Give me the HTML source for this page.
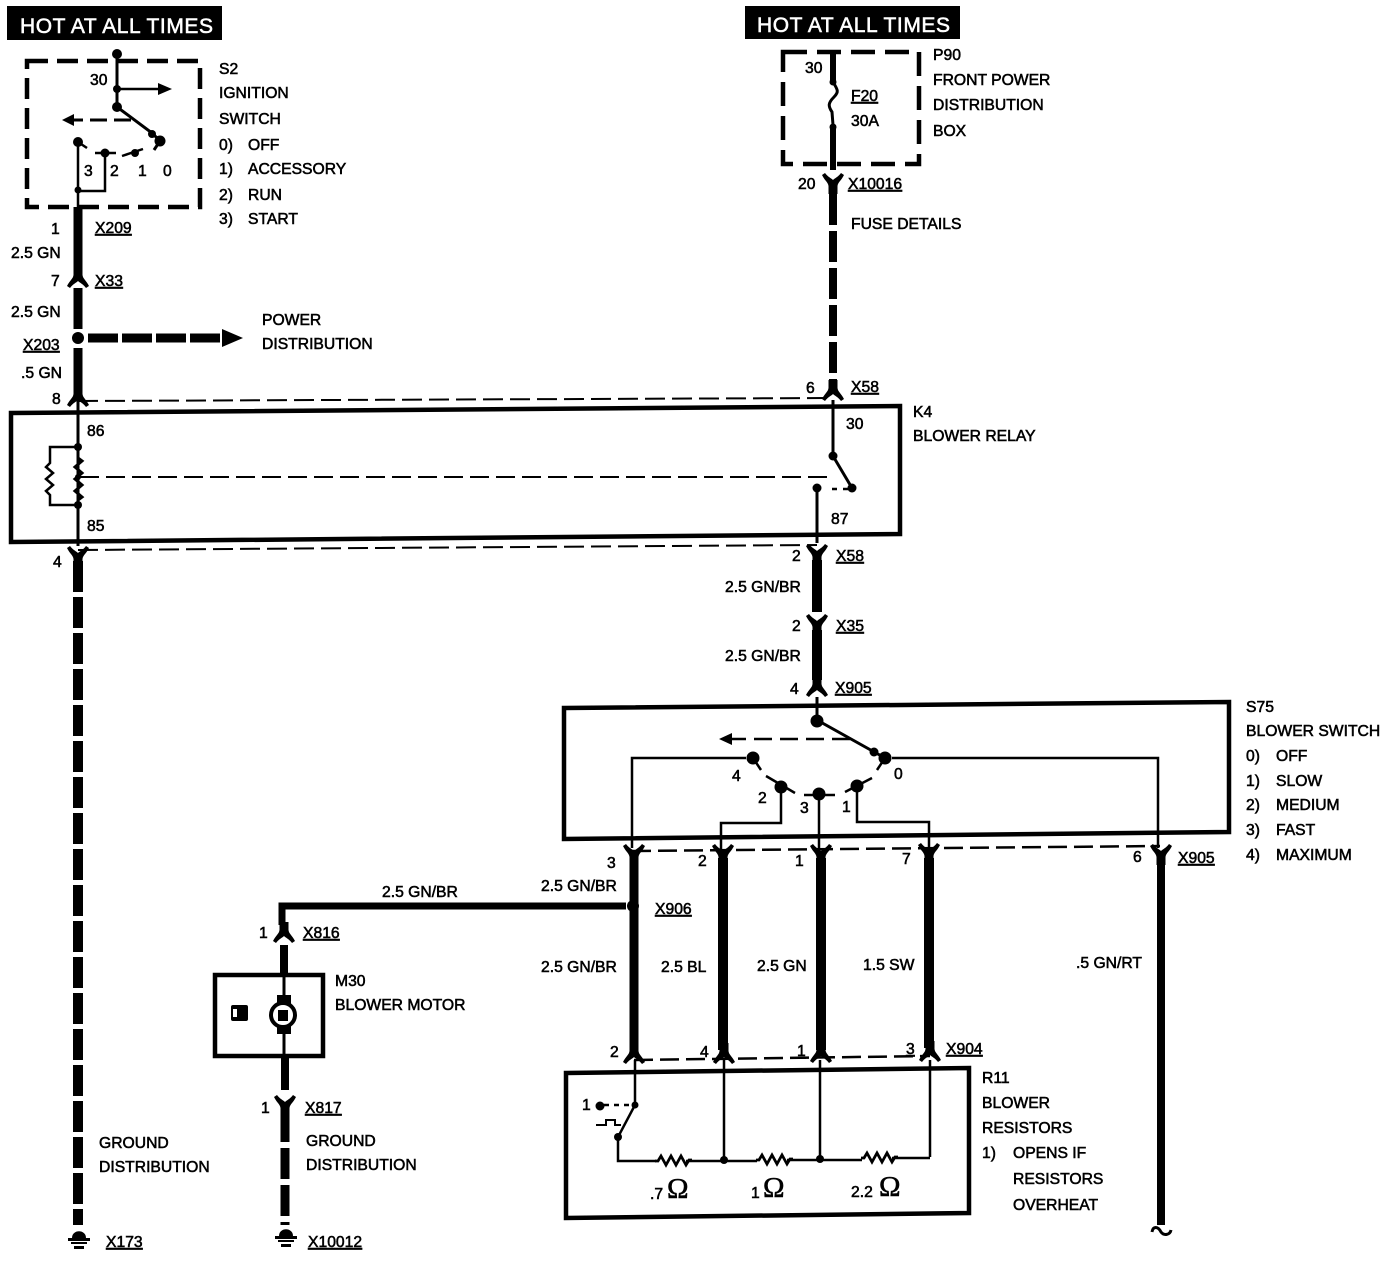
<!DOCTYPE html>
<html><head><meta charset="utf-8"><style>
html,body{margin:0;padding:0;background:#fff}
svg{display:block}
text{font-family:"Liberation Sans",sans-serif;font-size:15.7px;fill:#000;stroke:#000;stroke-width:.55}
.u{text-decoration:underline}
.h{font-size:21px;fill:#fff;stroke:#fff;stroke-width:.55}
.o{font-family:"Liberation Serif",serif;font-size:29px}
</style></head><body>
<svg width="1386" height="1280" viewBox="0 0 1386 1280" xmlns="http://www.w3.org/2000/svg">
<defs>
<path id="y" d="M-11,-6 L-8,-8 C-5,-4 -2,-3 0,-1 C2,-3 5,-4 8,-8 L11,-6 C8,0 5,1 4.5,5 L4.5,13 L-4.5,13 L-4.5,5 C-5,1 -8,0 -11,-6Z" fill="#000"/>
<path id="n" d="M-11,6 L-8,8 C-5,4 -2,3 0,1 C2,3 5,4 8,8 L11,6 C8,0 5,-1 4.5,-5 L4.5,-13 L-4.5,-13 L-4.5,-5 C-5,-1 -8,0 -11,6Z" fill="#000"/>
<g id="g"><path d="M-7,-2 C-7,-11 7,-11 7,-2Z" fill="#000"/><rect x="-11" y="-2" width="22" height="3"/><rect x="-8" y="2" width="16" height="2"/><rect x="-5" y="6" width="10" height="3"/></g>
<path id="r" d="M0,0 l3,0 l3,-5 l5,9 l5,-9 l5,9 l5,-9 l5,9 l3,-5 l3,0" fill="none" stroke="#000" stroke-width="2.8"/>
</defs>

<!-- headers -->
<rect x="7" y="6" width="215" height="34" fill="#000"/>
<text class="h" x="20" y="33" textLength="193">HOT AT ALL TIMES</text>
<rect x="745" y="6" width="215" height="33" fill="#000"/>
<text class="h" x="757" y="32" textLength="193">HOT AT ALL TIMES</text>

<g fill="none" stroke="#000">
<!-- component boxes -->
<polygon points="11,413 900,406 900,534 11,542" stroke-width="4.5"/>
<polygon points="564,708 1229,702 1229,832 564,839" stroke-width="4.5"/>
<polygon points="566,1073 969,1068 969,1213 566,1218" stroke-width="4.5"/>
<rect x="215" y="975" width="108" height="81" stroke-width="4.5"/>
<!-- dashed boxes -->
<rect x="27" y="61" width="173" height="146" stroke-width="4.5" stroke-dasharray="21,9"/>
<rect x="783" y="52" width="136" height="112" stroke-width="4.5" stroke-dasharray="24,10"/>

<!-- thin dashed bridges -->
<path d="M78,401 L833,398" stroke-width="2" stroke-dasharray="20,7"/>
<path d="M78,550 L817,545" stroke-width="2" stroke-dasharray="20,7"/>
<path d="M632,851 L1160,846" stroke-width="2.5" stroke-dasharray="19,7"/>
<path d="M634,1060 L930,1056" stroke-width="2.5" stroke-dasharray="19,7"/>

<!-- S2 switch -->
<path d="M117,53 V107 L152,133 L160,141 L154,150" stroke-width="3"/>
<path d="M117,89 H160" stroke-width="2.5"/>
<path d="M131,120 H72" stroke-width="3" stroke-dasharray="17,7"/>
<path d="M78,142 V208" stroke-width="2.5"/>
<path d="M78,191 H105 V153" stroke-width="2.5"/>
<path d="M78,142 L87,148 M95,153 H116 M122,156 L143,149" stroke-width="2.5"/>

<!-- left wire -->
<path d="M78,207 V272" stroke-width="9"/>
<path d="M78,288 V329" stroke-width="9"/>
<path d="M78,348 V393" stroke-width="9"/>
<path d="M78,400 V546" stroke-width="3"/>
<path d="M78,561 V1225" stroke-width="10" stroke-dasharray="31,5"/>
<path d="M88,338 H222" stroke-width="9" stroke-dasharray="30,4"/>

<!-- K4 coil -->
<path d="M78,447 H50 V463 l-4,4 l7,6 l-7,6 l7,6 l-7,6 l4,4 V505 H78" stroke-width="2.5"/>
<path d="M78,447 V458 l4,3 l-7,6 l7,6 l-7,6 l7,6 l-7,6 l7,6 l-4,3 V505" stroke-width="3"/>
<path d="M80,477 H832" stroke-width="2" stroke-dasharray="19,7"/>

<!-- right upper wire -->
<path d="M833,52 V82" stroke-width="6"/>
<path d="M833,82 C838,90 839,92 834,97 C828,103 828,106 832,112 L833,125" stroke-width="3"/>
<path d="M833,125 V170" stroke-width="6"/>
<path d="M833,194 V390" stroke-width="8" stroke-dasharray="31,6"/>
<path d="M833,400 V456 L852,488" stroke-width="3"/>
<path d="M852,489 H832" stroke-width="2.5" stroke-dasharray="9,6"/>
<path d="M817,488 V543" stroke-width="3"/>
<path d="M817,560 V612" stroke-width="10"/>
<path d="M817,630 V680" stroke-width="10"/>
<path d="M817,697 V720 L885,758" stroke-width="3"/>

<!-- S75 -->
<path d="M850,739 H730" stroke-width="2.5" stroke-dasharray="18,8"/>
<path d="M746,758 H632 V848" stroke-width="2.5"/>
<path d="M892,758 H1158 V848" stroke-width="2.5"/>
<path d="M781,787 V823 H721 V850" stroke-width="2.5"/>
<path d="M819,794 V850" stroke-width="2.5"/>
<path d="M857,787 V822 H929 V850" stroke-width="2.5"/>
<path d="M753,758 L761,770 M766,776 L795,793 M804,795 H835 M845,792 L872,778 M877,770 L885,758" stroke-width="2.5"/>

<!-- vertical bundle -->
<path d="M634,858 V1050" stroke-width="9"/>
<path d="M723,858 V1050" stroke-width="10"/>
<path d="M821,858 V1050" stroke-width="10"/>
<path d="M929,858 V1048" stroke-width="10"/>
<path d="M1161,858 V1225" stroke-width="8"/>
<path d="M1152,1232 C1153,1226 1158,1226 1161,1232 C1164,1236 1170,1235 1171,1230" stroke-width="3"/>

<!-- motor feed -->
<path d="M626,906 H282 V925" stroke-width="7"/>
<path d="M284,945 V975" stroke-width="8"/>
<path d="M284,975 V1056" stroke-width="3"/>
<path d="M285,1056 V1090" stroke-width="8"/>
<path d="M285,1111 V1225" stroke-width="9" stroke-dasharray="31,6"/>

<!-- R11 -->
<path d="M635,1060 V1105 L618,1137 V1161 H656" stroke-width="2.5"/>
<path d="M724,1060 V1160" stroke-width="2.5"/>
<path d="M820,1060 V1159" stroke-width="2.5"/>
<path d="M930,1060 V1157" stroke-width="2.5"/>
<path d="M686,1161 H757 M787,1160 H862 M892,1158 H930" stroke-width="2.5"/>
<path d="M604,1105 H633" stroke-width="2.5" stroke-dasharray="5,5"/>
<path d="M596,1125 H606 V1120 H615 V1125 H621" stroke-width="2"/>
</g>

<!-- resistors -->
<use href="#r" x="655" y="1161"/>
<use href="#r" x="756" y="1160"/>
<use href="#r" x="861" y="1158"/>

<!-- connectors -->
<use href="#y" x="833" y="181"/>
<use href="#y" x="817" y="552"/>
<use href="#y" x="817" y="622"/>
<use href="#y" x="634" y="852"/>
<use href="#y" x="723" y="852"/>
<use href="#y" x="821" y="852"/>
<use href="#y" x="929" y="851"/>
<use href="#y" x="1161" y="852"/>
<use href="#y" x="285" y="1103"/>
<use href="#y" x="78" y="554"/>
<use href="#n" x="78" y="280"/>
<use href="#n" x="78" y="399"/>
<use href="#n" x="833" y="393"/>
<use href="#n" x="817" y="689"/>
<use href="#n" x="634" y="1056"/>
<use href="#n" x="724" y="1056"/>
<use href="#n" x="821" y="1055"/>
<use href="#n" x="930" y="1054"/>
<use href="#n" x="284" y="935"/>

<!-- arrowheads -->
<polygon points="158,83 172,89 158,95" fill="#000"/>
<polygon points="62,120 74,114 74,126" fill="#000"/>
<polygon points="222,329 243,338 222,347" fill="#000"/>
<polygon points="719,739 732,733 732,745" fill="#000"/>

<!-- dots -->
<g fill="#000">
<circle cx="117" cy="54" r="5"/><circle cx="117" cy="89" r="4"/><circle cx="117" cy="107" r="5"/>
<circle cx="152" cy="134" r="4"/><circle cx="160" cy="141" r="5.5"/>
<circle cx="78" cy="142" r="5"/><circle cx="105" cy="153" r="4.5"/><circle cx="135" cy="153" r="4"/><circle cx="78" cy="190" r="3.5"/>
<circle cx="78" cy="338" r="6"/>
<circle cx="78" cy="447" r="4"/><circle cx="78" cy="505" r="4"/><circle cx="78" cy="477" r="3"/>
<circle cx="833" cy="456" r="4.5"/><circle cx="852" cy="488" r="4.5"/><circle cx="817" cy="488" r="4.5"/>
<circle cx="817" cy="721" r="6.5"/><circle cx="874" cy="752" r="4.5"/><circle cx="885" cy="758" r="6.5"/>
<circle cx="753" cy="758" r="6.5"/><circle cx="781" cy="787" r="6.5"/><circle cx="819" cy="794" r="6.5"/><circle cx="857" cy="786" r="6.5"/>
<circle cx="633" cy="906" r="6"/>
<circle cx="635" cy="1105" r="3.5"/><circle cx="618" cy="1137" r="4"/><circle cx="600" cy="1106" r="4.5"/>
<circle cx="724" cy="1160" r="4"/><circle cx="820" cy="1159" r="4"/>
<circle cx="833" cy="82" r="3.5"/><circle cx="833" cy="127" r="3.5"/>
<!-- motor -->
<rect x="277" y="995" width="14" height="12"/><rect x="277" y="1024" width="14" height="10"/>
<rect x="231" y="1005" width="17" height="16" rx="2"/>
</g>
<rect x="233" y="1009" width="4" height="8" fill="#fff"/>
<circle cx="283" cy="1015" r="12" fill="#fff" stroke="#000" stroke-width="4"/>
<rect x="278" y="1010" width="10" height="11" fill="#000"/>
<use href="#g" x="79" y="1240"/>
<use href="#g" x="286" y="1238"/>

<!-- labels -->
<text x="90" y="85">30</text>
<text x="84" y="176">3</text><text x="110" y="176">2</text><text x="138" y="176">1</text><text x="163" y="176">0</text>
<text x="219" y="74">S2</text><text x="219" y="98">IGNITION</text><text x="219" y="124">SWITCH</text>
<text x="219" y="150">0)</text><text x="248" y="150">OFF</text>
<text x="219" y="174">1)</text><text x="248" y="174">ACCESSORY</text>
<text x="219" y="200">2)</text><text x="248" y="200">RUN</text>
<text x="219" y="224">3)</text><text x="248" y="224">START</text>
<text x="51" y="234">1</text><text class="u" x="95" y="233">X209</text>
<text x="11" y="258">2.5 GN</text>
<text x="51" y="286">7</text><text class="u" x="95" y="286">X33</text>
<text x="11" y="317">2.5 GN</text>
<text class="u" x="23" y="350">X203</text>
<text x="21" y="378">.5 GN</text>
<text x="52" y="404">8</text><text x="87" y="436">86</text><text x="87" y="531">85</text><text x="53" y="567">4</text>
<text x="262" y="325">POWER</text><text x="262" y="349">DISTRIBUTION</text>
<text x="933" y="60">P90</text><text x="933" y="85">FRONT POWER</text><text x="933" y="110">DISTRIBUTION</text><text x="933" y="136">BOX</text>
<text x="805" y="73">30</text><text class="u" x="851" y="101">F20</text><text x="851" y="126">30A</text>
<text x="798" y="189">20</text><text class="u" x="848" y="189">X10016</text>
<text x="851" y="229">FUSE DETAILS</text>
<text x="806" y="393">6</text><text class="u" x="851" y="392">X58</text>
<text x="913" y="417">K4</text><text x="913" y="441">BLOWER RELAY</text>
<text x="846" y="429">30</text><text x="831" y="524">87</text>
<text x="792" y="561">2</text><text class="u" x="836" y="561">X58</text>
<text x="725" y="592">2.5 GN/BR</text>
<text x="792" y="631">2</text><text class="u" x="836" y="631">X35</text>
<text x="725" y="661">2.5 GN/BR</text>
<text x="790" y="694">4</text><text class="u" x="835" y="693">X905</text>
<text x="1246" y="712">S75</text><text x="1246" y="736">BLOWER SWITCH</text>
<text x="1246" y="761">0)</text><text x="1276" y="761">OFF</text>
<text x="1246" y="786">1)</text><text x="1276" y="786">SLOW</text>
<text x="1246" y="810">2)</text><text x="1276" y="810">MEDIUM</text>
<text x="1246" y="835">3)</text><text x="1276" y="835">FAST</text>
<text x="1246" y="860">4)</text><text x="1276" y="860">MAXIMUM</text>
<text x="732" y="781">4</text><text x="758" y="803">2</text><text x="800" y="813">3</text><text x="842" y="812">1</text><text x="894" y="779">0</text>
<text x="607" y="868">3</text><text x="698" y="866">2</text><text x="795" y="866">1</text><text x="902" y="864">7</text><text x="1133" y="862">6</text>
<text class="u" x="1178" y="863">X905</text>
<text x="382" y="897">2.5 GN/BR</text><text x="541" y="891">2.5 GN/BR</text>
<text class="u" x="655" y="914">X906</text>
<text x="541" y="972">2.5 GN/BR</text><text x="661" y="972">2.5 BL</text><text x="757" y="971">2.5 GN</text><text x="863" y="970">1.5 SW</text><text x="1076" y="968">.5 GN/RT</text>
<text x="259" y="938">1</text><text class="u" x="303" y="938">X816</text>
<text x="335" y="986">M30</text><text x="335" y="1010">BLOWER MOTOR</text>
<text x="261" y="1113">1</text><text class="u" x="305" y="1113">X817</text>
<text x="306" y="1146">GROUND</text><text x="306" y="1170">DISTRIBUTION</text>
<text x="99" y="1148">GROUND</text><text x="99" y="1172">DISTRIBUTION</text>
<text class="u" x="106" y="1247">X173</text><text class="u" x="308" y="1247">X10012</text>
<text x="610" y="1057">2</text><text x="700" y="1057">4</text><text class="u" x="797" y="1056">1</text><text class="u" x="906" y="1054">3</text>
<text class="u" x="946" y="1054">X904</text>
<text x="982" y="1083">R11</text><text x="982" y="1108">BLOWER</text><text x="982" y="1133">RESISTORS</text>
<text x="982" y="1158">1)</text><text x="1013" y="1158">OPENS IF</text><text x="1013" y="1184">RESISTORS</text><text x="1013" y="1210">OVERHEAT</text>
<text x="582" y="1110">1</text>
<text x="650" y="1199">.7</text><text class="o" x="667" y="1198">Ω</text>
<text x="751" y="1198">1</text><text class="o" x="763" y="1197">Ω</text>
<text x="851" y="1197">2.2</text><text class="o" x="879" y="1196">Ω</text>
</svg>
</body></html>
